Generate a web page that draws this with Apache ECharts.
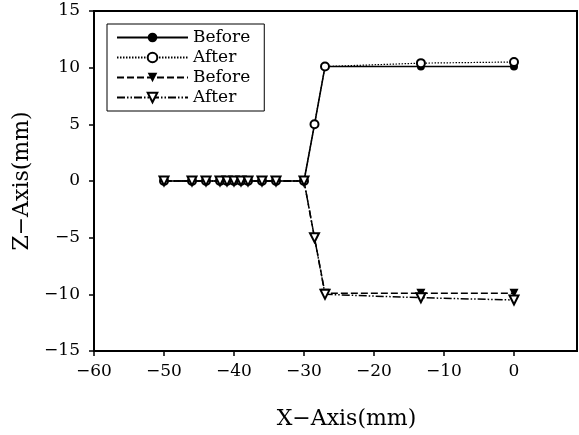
<!DOCTYPE html>
<html>
<head>
<meta charset="utf-8">
<script src="https://cdn.jsdelivr.net/npm/echarts@6/dist/echarts.min.js"></script>
<style>
  html, body { margin: 0; padding: 0; background: #fff; }
  #chart { width: 579px; height: 435px; }
</style>
</head>
<body>
<div id="chart"></div>
<script>
// Measurement positions along the X axis (mm)
const xPositions = [-50, -46, -44, -42, -41, -40, -39, -38, -36, -34, -30, -28.5, -27, -13.3, 0];

// Z displacement (mm), upper edge
const zUpperBefore = [0, 0, 0, 0, 0, 0, 0, 0, 0, 0, 0, 5, 10.1, 10.1, 10.1];
const zUpperAfter  = [0, 0, 0, 0, 0, 0, 0, 0, 0, 0, 0, 5, 10.1, 10.4, 10.5];

// Z displacement (mm), lower edge
const zLowerBefore = [0, 0, 0, 0, 0, 0, 0, 0, 0, 0, 0, -5, -9.9, -9.9, -9.9];
const zLowerAfter  = [0, 0, 0, 0, 0, 0, 0, 0, 0, 0, 0, -5, -10, -10.3, -10.5];

// Axis ticks
const xTicks = [-60, -50, -40, -30, -20, -10, 0];
const yTicks = [-15, -10, -5, 0, 5, 10, 15];

const FONT = '"DejaVu Serif", "Liberation Serif", serif';
const minus = v => String(v).replace('-', '\u2212');
const pairs = ys => xPositions.map((x, i) => [x, ys[i]]);

const chart = echarts.init(document.getElementById('chart'), null, { renderer: 'canvas' });

const axisCommon = {
  axisLine: { show: true, onZero: false, lineStyle: { color: '#000', width: 2 } },
  axisTick: { show: true, inside: false, length: 5, lineStyle: { color: '#000', width: 1.5 } },
  splitLine: { show: false },
  nameTextStyle: { color: '#000', fontFamily: FONT, fontSize: 22 }
};

chart.setOption({
  animation: false,
  backgroundColor: '#fff',
  grid: {
    left: 94, right: 2, top: 11, bottom: 84,
    outerBoundsMode: 'none', containLabel: false,
    show: true, borderColor: '#000', borderWidth: 2, backgroundColor: 'transparent'
  },
  legend: {
    orient: 'vertical',
    left: 107, top: 24,
    padding: [4, 14, 4, 9],
    itemWidth: 71, itemHeight: 12, itemGap: 1,
    borderColor: '#000', borderWidth: 1,
    backgroundColor: '#fff',
    textStyle: { color: '#000', fontFamily: FONT, fontSize: 17, lineHeight: 19 },
    formatter: name => name.trim(),
    data: ['Before', 'After', 'Before ', 'After ']
  },
  xAxis: Object.assign({}, axisCommon, {
    type: 'value', min: -60, max: 9,
    name: 'X\u2212Axis(mm)', nameLocation: 'middle', nameGap: 57,
    nameTextStyle: Object.assign({}, axisCommon.nameTextStyle, { padding: [0, 0, 0, 22] }),
    axisTick: Object.assign({}, axisCommon.axisTick, { customValues: xTicks }),
    axisLabel: {
      customValues: xTicks, margin: 12,
      color: '#000', fontFamily: FONT, fontSize: 17,
      formatter: minus
    }
  }),
  yAxis: Object.assign({}, axisCommon, {
    type: 'value', min: -15, max: 15, interval: 5,
    name: 'Z\u2212Axis(mm)', nameLocation: 'middle', nameGap: 60, nameRotate: 90,
    axisTick: Object.assign({}, axisCommon.axisTick, { customValues: yTicks }),
    axisLabel: {
      customValues: yTicks, margin: 14,
      color: '#000', fontFamily: FONT, fontSize: 17,
      formatter: minus
    }
  }),
  series: [
    {
      name: 'Before', type: 'line', data: pairs(zUpperBefore),
      symbol: 'circle', symbolSize: 8,
      itemStyle: { color: '#000' },
      lineStyle: { color: '#000', width: 1.6, type: 'solid' }
    },
    {
      name: 'After', type: 'line', data: pairs(zUpperAfter),
      symbol: 'emptyCircle', symbolSize: 8,
      itemStyle: { color: '#000', borderWidth: 1.5 },
      lineStyle: { color: '#000', width: 1.2, type: [1.5, 1.5] }
    },
    {
      name: 'Before ', type: 'line', data: pairs(zLowerBefore),
      symbol: 'triangle', symbolRotate: 180, symbolSize: 9,
      itemStyle: { color: '#000' },
      lineStyle: { color: '#000', width: 1.5, type: [7, 3] }
    },
    {
      name: 'After ', type: 'line', data: pairs(zLowerAfter),
      symbol: 'emptyTriangle', symbolRotate: 180, symbolSize: 9,
      itemStyle: { color: '#000', borderWidth: 1.5 },
      lineStyle: { color: '#000', width: 1.5, type: [8, 2, 1.5, 2, 1.5, 2] }
    }
  ]
});
</script>
</body>
</html>
